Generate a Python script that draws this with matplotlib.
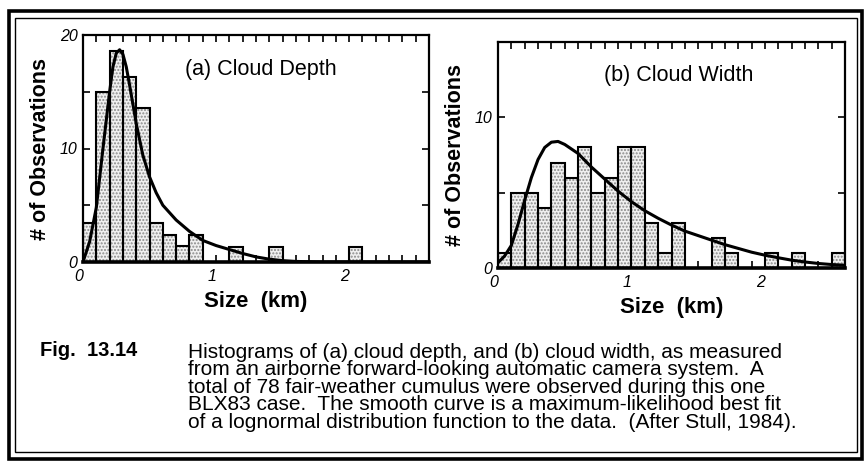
import numpy as np
import matplotlib
matplotlib.use("Agg")
import matplotlib.pyplot as plt
from matplotlib.patches import Rectangle
from matplotlib import font_manager

# ---- data ---------------------------------------------------------------
bin_width = 0.1  # km

# (a) cloud depth histogram: left edges of bins (km) and counts
depth_edges = [0.0, 0.1, 0.2, 0.3, 0.4, 0.5, 0.6, 0.7, 0.8, 1.1, 1.4, 2.0]
depth_counts = [3.4, 15.0, 18.6, 16.3, 13.6, 3.4, 2.4, 1.4, 2.4, 1.35, 1.35, 1.35]

# (a) lognormal fit curve
depth_fit_x = [0.0, 0.05, 0.10, 0.15, 0.20, 0.225, 0.25, 0.275, 0.30, 0.325,
               0.35, 0.40, 0.45, 0.50, 0.55, 0.60, 0.70, 0.80, 0.90, 1.00,
               1.10, 1.20, 1.30, 1.40, 1.50, 1.60, 1.80, 2.00, 2.60]
depth_fit_y = [0.0, 1.8, 4.8, 10.0, 15.0, 17.2, 18.4, 18.7, 18.3, 17.2,
               15.6, 12.2, 9.4, 7.5, 6.1, 5.0, 3.7, 2.7, 1.9, 1.45,
               1.1, 0.75, 0.45, 0.25, 0.12, 0.05, 0.0, 0.0, 0.0]

# (b) cloud width histogram
width_edges = [0.0, 0.1, 0.2, 0.3, 0.4, 0.5, 0.6, 0.7, 0.8, 0.9, 1.0, 1.1,
               1.2, 1.3, 1.6, 1.7, 2.0, 2.2, 2.5]
width_counts = [1, 5, 5, 4, 7, 6, 8, 5, 6, 8, 8, 3, 1, 3, 2, 1, 1, 1, 1]

# (b) lognormal fit curve
width_fit_x = [0.0, 0.05, 0.10, 0.15, 0.20, 0.25, 0.30, 0.35, 0.40, 0.45,
               0.50, 0.60, 0.70, 0.80, 0.90, 1.00, 1.10, 1.20, 1.30, 1.40,
               1.50, 1.60, 1.70, 1.80, 1.90, 2.00, 2.10, 2.20, 2.30, 2.40,
               2.50, 2.60]
width_fit_y = [0.35, 0.8, 1.5, 2.9, 4.5, 6.0, 7.2, 8.0, 8.35, 8.4,
               8.2, 7.6, 6.7, 5.9, 5.1, 4.4, 3.8, 3.3, 2.85, 2.45,
               2.15, 1.85, 1.55, 1.3, 1.05, 0.85, 0.68, 0.52, 0.4, 0.3,
               0.23, 0.18]

x_ticklabels = ["0", "1", "2"]
caption_tag = "Fig.  13.14"
caption_lines = [
    "Histograms of (a) cloud depth, and (b) cloud width, as measured",
    "from an airborne forward-looking automatic camera system.  A",
    "total of 78 fair-weather cumulus were observed during this one",
    "BLX83 case.  The smooth curve is a maximum-likelihood best fit",
    "of a lognormal distribution function to the data.  (After Stull, 1984).",
]

# ---- figure -------------------------------------------------------------
W, H = 866, 466
fig = plt.figure(figsize=(W / 100, H / 100), dpi=100)
fig.patch.set_facecolor("white")

SANS = ["Liberation Sans", "DejaVu Sans"]
installed = {f.name for f in font_manager.fontManager.ttflist}
if "Liberation Sans Narrow" in installed:
    CAPTION_FONT, CAPTION_SIZE = ["Liberation Sans Narrow"], 16.5
else:
    CAPTION_FONT, CAPTION_SIZE = SANS, 15.0


def px_axes(left, top, right, bottom):
    return fig.add_axes([left / W, 1 - bottom / H, (right - left) / W, (bottom - top) / H])


def draw_panel(ax, edges, counts, fx, fy, ymax, ylabels, title, title_xy):
    # stippled fill
    ax.bar(edges, counts, width=bin_width, align="edge", facecolor="#f0f0f0",
           edgecolor="#8a8a8a", linewidth=0, hatch=".....", zorder=2)
    # outlines
    ax.bar(edges, counts, width=bin_width, align="edge", facecolor="none",
           edgecolor="black", linewidth=1.5, zorder=3)
    ax.plot(fx, fy, color="black", linewidth=2.2, zorder=4,
            solid_capstyle="round", solid_joinstyle="round")
    ax.set_xlim(0, 2.6)
    ax.set_ylim(0, ymax)
    for s in ax.spines.values():
        s.set_linewidth(1.6)
    ax.spines["bottom"].set_linewidth(2.6)
    ax.set_xticks([0, 1, 2])
    ax.set_xticklabels(x_ticklabels, fontstyle="italic", family=SANS, fontsize=11.5)
    ax.set_xticks(np.arange(0, 2.61, 0.1), minor=True)
    yt = np.arange(0, ymax + 0.1, 5)
    ax.set_yticks(yt)
    ax.set_yticklabels([ylabels.get(int(v), "") for v in yt],
                       fontstyle="italic", family=SANS, fontsize=11.5)
    ax.tick_params(axis="both", which="major", direction="in", length=5, width=1.2,
                   top=True, right=True)
    ax.tick_params(axis="x", which="minor", direction="in", length=5, width=1.2,
                   top=True, bottom=True)
    ax.tick_params(axis="x", which="major", pad=5)
    ax.tick_params(axis="y", which="major", pad=4)
    for lbl in ax.get_xticklabels():
        lbl.set_horizontalalignment("right")
    ax.set_xlabel("Size  (km)", fontsize=16, fontweight="bold", family=SANS, labelpad=5)
    ax.set_ylabel("# of Observations", fontsize=15.5, fontweight="bold", family=SANS,
                  labelpad=6)
    ax.text(title_xy[0], title_xy[1], title, transform=ax.transAxes, fontsize=15.5,
            family=SANS, ha="center", va="center")


ax_a = px_axes(83, 35, 429, 262)
draw_panel(ax_a, depth_edges, depth_counts, depth_fit_x, depth_fit_y, 20,
           {0: "0", 10: "10", 20: "20"}, "(a) Cloud Depth", (0.515, 0.85))

ax_b = px_axes(498, 42, 845, 268)
draw_panel(ax_b, width_edges, width_counts, width_fit_x, width_fit_y, 15,
           {0: "0", 10: "10"}, "(b) Cloud Width", (0.52, 0.85))

# ---- caption ------------------------------------------------------------
fig.text(40 / W, 1 - 351 / H, caption_tag, fontsize=14.5, fontweight="bold",
         family=SANS, ha="left", va="center")
for i, line in enumerate(caption_lines):
    fig.text(188 / W, 1 - (352 + 17.6 * i) / H, line, fontsize=CAPTION_SIZE,
             family=CAPTION_FONT, ha="left", va="center")

# ---- double frame around the figure --------------------------------------
def frame(l, t, r, b, lw):
    fig.add_artist(Rectangle((l / W, 1 - b / H), (r - l) / W, (b - t) / H,
                             transform=fig.transFigure, fill=False,
                             edgecolor="black", linewidth=lw))

frame(9, 11, 862, 459, 2.6)
frame(15, 18, 857, 452, 1.0)

fig.savefig("out.png", dpi=100, facecolor="white")
